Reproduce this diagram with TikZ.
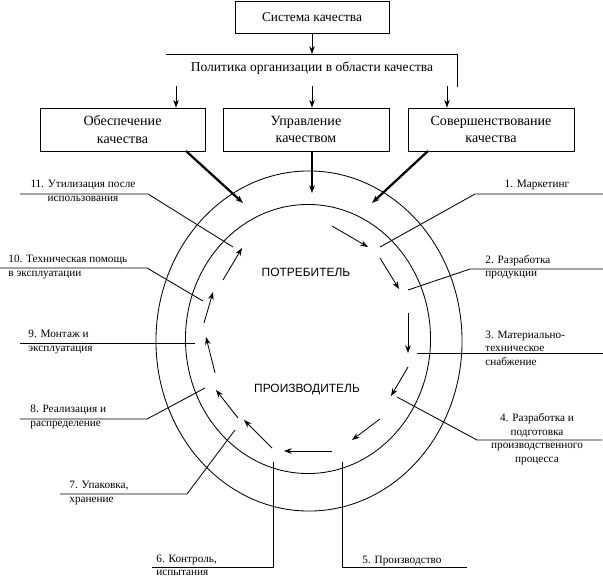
\documentclass[tikz,border=0pt]{standalone}
\usepackage{fontspec}
\setmainfont{Liberation Serif}
\setsansfont{Liberation Sans}
\usetikzlibrary{arrows.meta}

\begin{document}
\begin{tikzpicture}[x=0.025cm,y=-0.025cm,line width=0.6pt,
        box/.style={draw,inner sep=0pt,minimum height=1.075cm,align=center,font=\fontsize{10}{12.5}\selectfont},
        lbl/.style={inner sep=0pt,font=\fontsize{8}{9.6}\selectfont},
        core/.style={font=\sffamily\fontsize{8.5}{10}\selectfont},
        arr/.style={-{Stealth[length=5.5pt,width=4pt]}},
        bigarr/.style={arr,line width=1.6pt}]
                    \useasboundingbox (0,0) rectangle (603,578);

                    \node[box,minimum width=3.85cm,minimum height=0.8cm,font=\fontsize{9.5}{11}\selectfont] (sys) at (312,17) {Система качества};
                    \node[font=\fontsize{9.6}{11}\selectfont] (policy) at (312,68) {Политика организации в области качества};
                    \node[box,minimum width=4.125cm] (assure) at (122.5,129.5) {Обеспечение\\качества};
                    \node[box,minimum width=4.15cm] (manage) at (306,129.5) {Управление\\качеством};
                    \node[box,minimum width=4.15cm] (improve) at (491,129.5) {Совершенствование\\качества};

                    \coordinate (pl) at (166,54);
                    \coordinate (pr) at (457,54);
                    \coordinate (pe) at (457,87);
                    \draw (pl) -- (pr) -- (pe);
                    \draw[arr] (sys) -- (sys |- pl);

                    \coordinate (q1) at (176,86);
                    \coordinate (q2) at (312,86);
                    \coordinate (q3) at (447,86);
                    \draw[arr] (q1) -- (q1 |- assure.north);
                    \draw[arr] (q2) -- (q2 |- manage.north);
                    \draw[arr] (q3) -- (q3 |- improve.north);

                    \coordinate (s1) at (186,151);
                    \coordinate (s2) at (312,151);
                    \coordinate (s3) at (428,151);
                    \coordinate (t1) at (243,203);
                    \coordinate (t2) at (312,193);
                    \coordinate (t3) at (372,203);
                    \draw[bigarr] (s1) -- (t1);
                    \draw[bigarr] (s2) -- (t2);
                    \draw[bigarr] (s3) -- (t3);

                    \draw (309,341) ellipse [x radius=3.825cm,y radius=4.25cm];
                    \draw (308,339) ellipse [x radius=3.0625cm,y radius=3.3625cm];

                    \node[core] (consumer) at (306,272) {ПОТРЕБИТЕЛЬ};
                    \node[core] (producer) at (307,390) {ПРОИЗВОДИТЕЛЬ};

                    \foreach \a/\b in {{332,226}/{368,247},{380,258}/{399,289},{408,313}/{408,353},
                            {408,367}/{391,396},{380,419}/{352,440},{332,451}/{284,451},
                            {272,448}/{244,420},{238,418}/{216,390},{215,373}/{206,337},
                            {204,323}/{213,292},{223,280}/{242,248}} {
                            \draw[arr] (\a) -- (\b);
                        }

                    \foreach \i/\r/\b/\e in {1/{380,247}/{475,194}/{603,194},
                            2/{408,290}/{470,269}/{603,269},
                            3/{417,353}/{417,353}/{603,353},
                            4/{397,397}/{477,440}/{602,440},
                            5/{342,462}/{342,567}/{467,567},
                            6/{273,462}/{273,567}/{152,567},
                            7/{235,430}/{187,494}/{60,494},
                            8/{205,388}/{147,419}/{20,419},
                            9/{195,343}/{195,343}/{20,343},
                            10/{203,301}/{147,268}/{0,268},
                            11/{233,247}/{148,194}/{20,194}} {
                            \coordinate (r\i) at (\r);
                            \coordinate (b\i) at (\b);
                            \coordinate (e\i) at (\e);
                            \draw (r\i) -- (b\i) -- (e\i);
                        }

                    \node[lbl,anchor=base] (l1) at (537,187) {1. Маркетинг};
                    \node[lbl,anchor=west,align=left] (l2) at (485,267) {2. Разработка\\продукции};
                    \node[lbl,anchor=west,align=left] (l3) at (485,348) {3. Материально-\\техническое\\снабжение};
                    \node[lbl,align=center] (l4) at (537,439) {4. Разработка и\\подготовка\\производственного\\процесса};
                    \node[lbl,anchor=base] (l5) at (402,563) {5. Производство};
                    \node[lbl,anchor=west,align=left,font=\fontsize{8}{9}\selectfont] (l6) at (156,565) {6. Контроль,\\испытания};
                    \node[lbl,anchor=west,align=left] (l7) at (69,493) {7. Упаковка,\\хранение};
                    \node[lbl,anchor=west,align=left] (l8) at (30,417) {8. Реализация и\\распределение};
                    \node[lbl,anchor=west,align=left] (l9) at (28,342) {9. Монтаж и\\эксплуатация};
                    \node[lbl,anchor=west,align=left] (l10) at (8,267) {10. Техническая помощь\\в эксплуатации};
                    \node[lbl,align=center] (l11) at (83,191) {11. Утилизация после\\использования};
\end{tikzpicture}
\end{document}
